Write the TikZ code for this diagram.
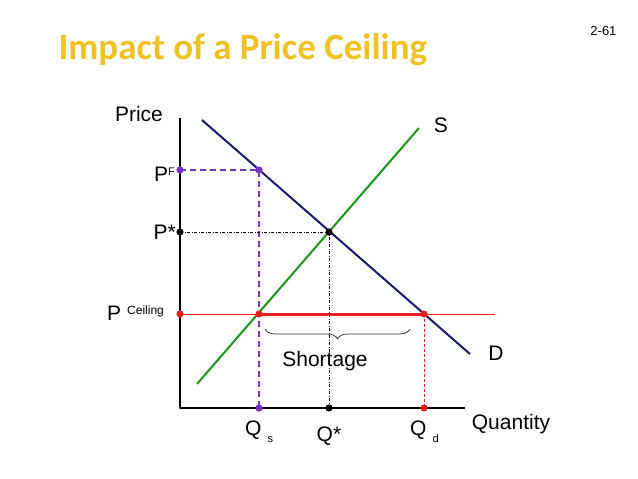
\documentclass[tikz,border=0pt]{standalone}
\usepackage{fontspec}
\setmainfont{Liberation Sans}
\newfontfamily\titlefont{Carlito}
\usetikzlibrary{decorations.pathreplacing}

\definecolor{titlegold}{RGB}{238,194,36}
\definecolor{dnavy}{RGB}{25,25,105}
\definecolor{sgreen}{RGB}{25,150,25}
\definecolor{fpurple}{RGB}{120,50,195}
\definecolor{ceilred}{RGB}{232,30,30}

\newcommand{\lbl}{\fontsize{21}{24}\selectfont}
\newcommand{\tinylbl}{\fontsize{11}{12}\selectfont}

\begin{document}
\begin{tikzpicture}[x=1pt, y=-1pt, line join=round,
  txt/.style={inner sep=0pt, font=\lbl}]
  \useasboundingbox (0,0) rectangle (638,479);

  % axes
  \coordinate (O) at (180,408);
  \coordinate (Ytop) at (180,118);
  \coordinate (Xend) at (465,408);

  % end points of the curves
  \coordinate (D1) at (202,120);
  \coordinate (D2) at (470,354);
  \coordinate (S1) at (197,384);
  \coordinate (S2) at (419,128);
  \coordinate (Cr) at (495,314);

  % points on the axes and on the curves
  \coordinate (pf) at (180,170);
  \coordinate (fd) at (259,170);
  \coordinate (ps) at (180,232);
  \coordinate (E)  at (329,232);
  \coordinate (pc) at (180,314);
  \coordinate (cs) at (259,314);
  \coordinate (cd) at (424,314);
  \coordinate (qs) at (259,408);
  \coordinate (qe) at (329,408);
  \coordinate (qd) at (424,408);

  \draw[line width=1.2pt] (Ytop) -- (O) -- (Xend);

  % ceiling line
  \draw[ceilred, line width=0.9pt] (pc) -- (Cr);
  \draw[ceilred, line width=3pt] (cs) -- (cd);

  % helper lines
  \draw[fpurple, line width=1.3pt, dash pattern=on 6pt off 4pt] (pf) -- (fd) -- (qs);
  \draw[black, line width=0.8pt, dash pattern=on 3pt off 1.5pt on 1pt off 1.5pt] (ps) -- (E) -- (qe);
  \draw[ceilred, line width=0.8pt, dash pattern=on 3pt off 2pt] (cd) -- (qd);

  % supply and demand
  \draw[dnavy, line width=2pt] (D1) -- (D2);
  \draw[sgreen, line width=2pt] (S1) -- (S2);

  % dots on top
  \foreach \p/\c in {pf/fpurple, fd/fpurple, qs/fpurple, ps/black, E/black, qe/black,
                     pc/ceilred, cs/ceilred, cd/ceilred, qd/ceilred}
    \fill[\c] (\p) circle (3.6pt);

  % shortage brace
  \draw[black!80, line width=0.8pt, decorate,
        decoration={brace, mirror, amplitude=10pt}] (265,329) -- (410,329);

  % labels
  \node[font=\titlefont\bfseries\fontsize{37}{40}\selectfont, text=titlegold, anchor=west]
    (title) at (55,50) {Impact of a Price Ceiling};
  \node[font=\fontsize{13}{14}\selectfont, anchor=east] (slide) at (620,31) {2-61};
  \node[txt] (price) at (139,114) {Price};
  \node[txt] (quant) at (511,424) {Quantity};
  \node[txt] (slbl) at (441,125) {S};
  \node[txt] (dlbl) at (496,353) {D};
  \node[txt] (short) at (325,361) {Shortage};
  \node[txt, anchor=east] (pflbl) at (175,174) {P\raisebox{6pt}{\tinylbl F}};
  \node[txt, anchor=east] (pslbl) at (176,232) {P*};
  \node[txt, anchor=west] (pclbl) at (107,313) {P\hspace{6pt}\raisebox{6pt}{\fontsize{12}{13}\selectfont Ceiling}};
  \node[txt, anchor=west] (qslbl) at (245,432) {Q\hspace{6pt}\raisebox{-7pt}{\tinylbl s}};
  \node[txt] (qelbl) at (329,436) {Q*};
  \node[txt, anchor=west] (qdlbl) at (410,432) {Q\hspace{6pt}\raisebox{-7pt}{\tinylbl d}};
\end{tikzpicture}
\end{document}
